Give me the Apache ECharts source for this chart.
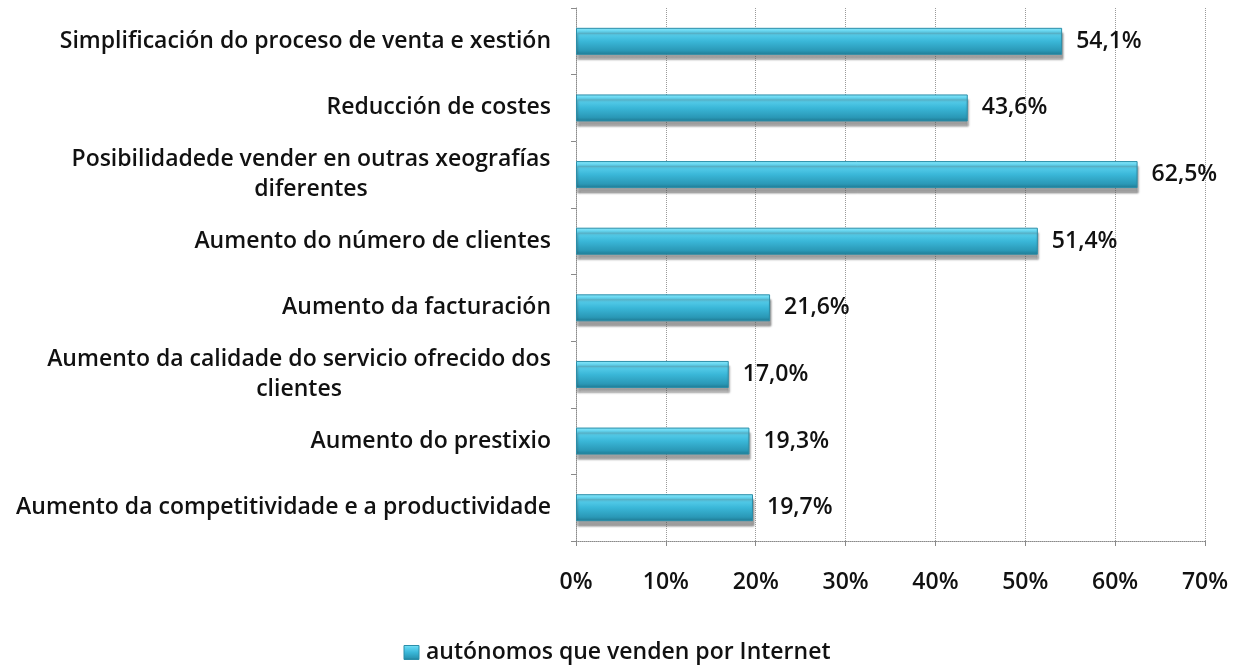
<!DOCTYPE html>
<html>
<head>
<meta charset="utf-8">
<script src="https://cdn.jsdelivr.net/npm/echarts@6/dist/echarts.min.js"></script>
<style>
html,body{margin:0;padding:0;background:#fff;}
#chart{width:1234px;height:665px;}
</style>
</head>
<body>
<div id="chart"></div>
<script>
// Categories, top to bottom
const categories = [
  'Simplificación do proceso de venta e xestión',
  'Reducción de costes',
  'Posibilidadede vender en outras xeografías\ndiferentes',
  'Aumento do número de clientes',
  'Aumento da facturación',
  'Aumento da calidade do servicio ofrecido dos\nclientes',
  'Aumento do prestixio',
  'Aumento da competitividade e a productividade'
];
// Share of self-employed selling online (%)
const values = [54.1, 43.6, 62.5, 51.4, 21.6, 17.0, 19.3, 19.7];
const seriesName = 'autónomos que venden por Internet';
const xTicks = [0, 10, 20, 30, 40, 50, 60, 70];

const FONT = 'Open Sans';
const FW = 600;
const FS = 23;
const TEXT = '#111';
const LINE_H = 30;

// width of a text line, used to centre wrapped category labels under their first line
const ctx = document.createElement('canvas').getContext('2d');
ctx.font = FW + ' ' + FS + 'px "' + FONT + '"';
function lineWidth(t) { return Math.ceil(ctx.measureText(t).width); }

const rich = {};
const labelFormatter = function (v) {
  const lines = v.split('\n');
  if (lines.length === 1) return v;
  const w = Math.max.apply(null, lines.map(lineWidth));
  const key = 'c' + w;
  rich[key] = { width: w, align: 'center', fontFamily: FONT, fontWeight: FW, fontSize: FS, color: TEXT, lineHeight: LINE_H };
  return lines.map(l => '{' + key + '|' + l + '}').join('\n');
};
// pre-build rich styles
categories.forEach(labelFormatter);

const barGradient = new echarts.graphic.LinearGradient(0, 0, 0, 1, [
  { offset: 0, color: '#8ae6f8' },
  { offset: 0.15, color: '#5fd4f0' },
  { offset: 0.5, color: '#3ab7d8' },
  { offset: 0.85, color: '#2a98b6' },
  { offset: 1, color: '#1e7891' }
]);

const chart = echarts.init(document.getElementById('chart'));
chart.setOption({
  animation: false,
  backgroundColor: '#fff',
  textStyle: { fontFamily: FONT },
  grid: { left: 576, right: 29, top: 8, bottom: 124, containLabel: false },
  xAxis: {
    type: 'value',
    min: xTicks[0],
    max: xTicks[xTicks.length - 1],
    interval: 10,
    axisLine: { show: true, lineStyle: { color: '#8a8a8a', type: 'dotted', width: 1 } },
    axisTick: { show: true, length: 5, lineStyle: { color: '#8a8a8a' } },
    splitLine: { show: true, lineStyle: { color: '#9a9a9a', type: 'dotted', width: 1 } },
    axisLabel: {
      margin: 30,
      formatter: v => v + '%',
      fontFamily: FONT, fontWeight: FW, fontSize: FS, color: TEXT
    }
  },
  yAxis: {
    type: 'category',
    inverse: true,
    data: categories,
    axisLine: { show: true, lineStyle: { color: '#8a8a8a', type: 'dotted', width: 1 } },
    axisTick: { show: true, length: 5, lineStyle: { color: '#8a8a8a' } },
    axisLabel: {
      margin: 25,
      formatter: labelFormatter,
      rich: rich,
      fontFamily: FONT, fontWeight: FW, fontSize: FS, color: TEXT, lineHeight: LINE_H
    }
  },
  legend: {
    top: 636,
    left: 'center',
    icon: 'rect',
    itemWidth: 15,
    itemHeight: 14,
    itemGap: 4,
    data: [{ name: seriesName, itemStyle: { color: barGradient, borderColor: '#2b8ea9', borderWidth: 1 } }],
    textStyle: { fontFamily: FONT, fontWeight: FW, fontSize: FS, color: TEXT, padding: [0, 0, 0, 2] }
  },
  series: [{
    name: seriesName,
    type: 'bar',
    data: values,
    barWidth: 27,
    itemStyle: {
      color: barGradient,
      borderColor: '#2b8ea9',
      borderWidth: 1,
      shadowColor: 'rgba(80,80,80,0.55)',
      shadowBlur: 2,
      shadowOffsetX: 1,
      shadowOffsetY: 5
    },
    label: {
      show: true,
      position: 'right',
      distance: 14,
      formatter: p => p.value.toFixed(1).replace('.', ',') + '%',
      fontFamily: FONT, fontWeight: FW, fontSize: FS, color: TEXT
    }
  }]
});
</script>
</body>
</html>
